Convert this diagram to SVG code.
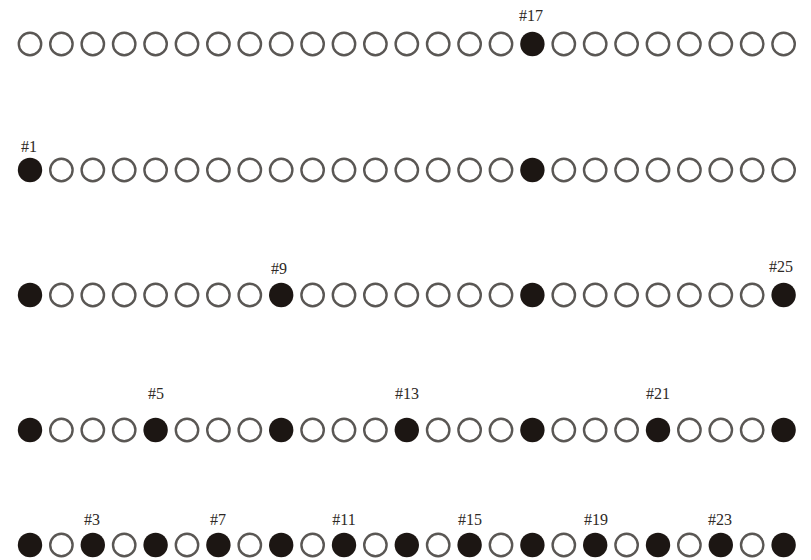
<svg xmlns="http://www.w3.org/2000/svg" xmlns:xlink="http://www.w3.org/1999/xlink" width="811" height="560" viewBox="0 0 811 560">
<style>
.lbl{font-family:"Liberation Serif","DejaVu Serif",serif;font-size:16px;fill:#2e2925;text-anchor:middle}
</style>
<defs>
<circle id="o" r="11.2" fill="#fff" stroke="#5a5754" stroke-width="2.4"/>
<circle id="f" r="12.2" fill="#1c1613"/>
</defs>
<rect width="811" height="560" fill="#fff"/>
<g id="row1" transform="translate(0,44)">
<use href="#o" x="30"/><use href="#o" x="61.4"/><use href="#o" x="92.8"/><use href="#o" x="124.2"/><use href="#o" x="155.6"/><use href="#o" x="187"/><use href="#o" x="218.4"/><use href="#o" x="249.8"/><use href="#o" x="281.2"/><use href="#o" x="312.6"/><use href="#o" x="344"/><use href="#o" x="375.4"/><use href="#o" x="406.8"/><use href="#o" x="438.2"/><use href="#o" x="469.6"/><use href="#o" x="501"/><use id="n17" href="#f" x="532.4"/><use href="#o" x="563.8"/><use href="#o" x="595.2"/><use href="#o" x="626.6"/><use href="#o" x="658"/><use href="#o" x="689.4"/><use href="#o" x="720.8"/><use href="#o" x="752.2"/><use href="#o" x="783.6"/>
<text class="lbl" x="531" y="-23">#17</text>
</g>
<g id="row2" transform="translate(0,170)">
<use id="n1" href="#f" x="30"/><use href="#o" x="61.4"/><use href="#o" x="92.8"/><use href="#o" x="124.2"/><use href="#o" x="155.6"/><use href="#o" x="187"/><use href="#o" x="218.4"/><use href="#o" x="249.8"/><use href="#o" x="281.2"/><use href="#o" x="312.6"/><use href="#o" x="344"/><use href="#o" x="375.4"/><use href="#o" x="406.8"/><use href="#o" x="438.2"/><use href="#o" x="469.6"/><use href="#o" x="501"/><use href="#f" x="532.4"/><use href="#o" x="563.8"/><use href="#o" x="595.2"/><use href="#o" x="626.6"/><use href="#o" x="658"/><use href="#o" x="689.4"/><use href="#o" x="720.8"/><use href="#o" x="752.2"/><use href="#o" x="783.6"/>
<text class="lbl" x="29" y="-18">#1</text>
</g>
<g id="row3" transform="translate(0,295)">
<use href="#f" x="30"/><use href="#o" x="61.4"/><use href="#o" x="92.8"/><use href="#o" x="124.2"/><use href="#o" x="155.6"/><use href="#o" x="187"/><use href="#o" x="218.4"/><use href="#o" x="249.8"/><use id="n9" href="#f" x="281.2"/><use href="#o" x="312.6"/><use href="#o" x="344"/><use href="#o" x="375.4"/><use href="#o" x="406.8"/><use href="#o" x="438.2"/><use href="#o" x="469.6"/><use href="#o" x="501"/><use href="#f" x="532.4"/><use href="#o" x="563.8"/><use href="#o" x="595.2"/><use href="#o" x="626.6"/><use href="#o" x="658"/><use href="#o" x="689.4"/><use href="#o" x="720.8"/><use href="#o" x="752.2"/><use id="n25" href="#f" x="783.6"/>
<text class="lbl" x="279" y="-21">#9</text>
<text class="lbl" x="781" y="-23">#25</text>
</g>
<g id="row4" transform="translate(0,430)">
<use href="#f" x="30"/><use href="#o" x="61.4"/><use href="#o" x="92.8"/><use href="#o" x="124.2"/><use id="n5" href="#f" x="155.6"/><use href="#o" x="187"/><use href="#o" x="218.4"/><use href="#o" x="249.8"/><use href="#f" x="281.2"/><use href="#o" x="312.6"/><use href="#o" x="344"/><use href="#o" x="375.4"/><use id="n13" href="#f" x="406.8"/><use href="#o" x="438.2"/><use href="#o" x="469.6"/><use href="#o" x="501"/><use href="#f" x="532.4"/><use href="#o" x="563.8"/><use href="#o" x="595.2"/><use href="#o" x="626.6"/><use id="n21" href="#f" x="658"/><use href="#o" x="689.4"/><use href="#o" x="720.8"/><use href="#o" x="752.2"/><use href="#f" x="783.6"/>
<text class="lbl" x="156" y="-31">#5</text>
<text class="lbl" x="407" y="-31">#13</text>
<text class="lbl" x="658" y="-31">#21</text>
</g>
<g id="row5" transform="translate(0,545)">
<use href="#f" x="30"/><use href="#o" x="61.4"/><use id="n3" href="#f" x="92.8"/><use href="#o" x="124.2"/><use href="#f" x="155.6"/><use href="#o" x="187"/><use id="n7" href="#f" x="218.4"/><use href="#o" x="249.8"/><use href="#f" x="281.2"/><use href="#o" x="312.6"/><use id="n11" href="#f" x="344"/><use href="#o" x="375.4"/><use href="#f" x="406.8"/><use href="#o" x="438.2"/><use id="n15" href="#f" x="469.6"/><use href="#o" x="501"/><use href="#f" x="532.4"/><use href="#o" x="563.8"/><use id="n19" href="#f" x="595.2"/><use href="#o" x="626.6"/><use href="#f" x="658"/><use href="#o" x="689.4"/><use id="n23" href="#f" x="720.8"/><use href="#o" x="752.2"/><use href="#f" x="783.6"/>
<text class="lbl" x="92" y="-20">#3</text>
<text class="lbl" x="218" y="-20">#7</text>
<text class="lbl" x="344" y="-20">#11</text>
<text class="lbl" x="470" y="-20">#15</text>
<text class="lbl" x="596" y="-20">#19</text>
<text class="lbl" x="720" y="-20">#23</text>
</g>
<g id="connectors"/>
</svg>
